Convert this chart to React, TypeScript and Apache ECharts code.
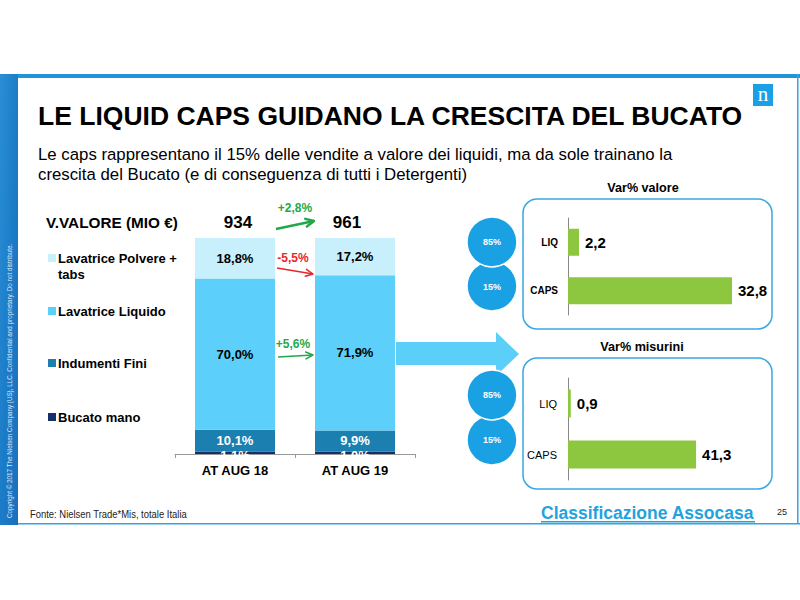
import React, { useEffect, useRef } from 'react';
import * as echarts from 'echarts';

// ---- data ----
const categories = ['AT AUG 18', 'AT AUG 19'];
const seriesNames = ['Bucato mano', 'Indumenti Fini', 'Lavatrice Liquido', 'Lavatrice Polvere + tabs'];
const bucatoMano = [1.1, 1.0];
const indumentiFini = [10.1, 9.9];
const lavatriceLiquido = [70.0, 71.9];
const lavatricePolvere = [18.8, 17.2];
const totals = [934, 961];
const totalChange = '+2,8%';
const polvereChange = '-5,5%';
const liquidoChange = '+5,6%';
const capsCategories = ['LIQ', 'CAPS'];
const varValore = [2.2, 32.8];
const varMisurini = [0.9, 41.3];
const shares = ['85%', '15%'];

const FF = '"Liberation Sans", Arial, sans-serif';
const fmt = (v: number) => v.toFixed(1).replace('.', ',');

const T = (text: string, x: number, y: number, size: number, o: any = {}) => ({
  type: 'text',
  x,
  y,
  z: 20,
  rotation: o.rotation || 0,
  scaleX: o.scaleX || 1,
  style: {
    text,
    fontSize: size,
    fontFamily: o.family || FF,
    fontWeight: o.bold ? 'bold' : 'normal',
    fill: o.color || '#000',
    align: o.align || 'left',
    textAlign: o.align || 'left',
    verticalAlign: 'middle',
    textVerticalAlign: 'middle',
  },
});

const arrow = (x1: number, y1: number, x2: number, y2: number, color: string, w: number, head = 9) => {
  const a = Math.atan2(y2 - y1, x2 - x1);
  const h1 = [x2 - head * Math.cos(a - 0.45), y2 - head * Math.sin(a - 0.45)];
  const h2 = [x2 - head * Math.cos(a + 0.45), y2 - head * Math.sin(a + 0.45)];
  return [
    { type: 'polyline', z: 20, shape: { points: [[x1, y1], [x2, y2]] }, style: { stroke: color, lineWidth: w, fill: null } },
    { type: 'polyline', z: 20, shape: { points: [h1, [x2, y2], h2] }, style: { stroke: color, lineWidth: w, fill: null, lineCap: 'round', lineJoin: 'round' } },
  ];
};

const C_POLV = '#c8effc';
const C_LIQ = '#5cd0fa';
const C_IND = '#1b7fb0';
const C_MANO = '#12306b';
const GREEN = '#8dc63f';
const CIRCLE = '#1aa1e3';
const PANEL = '#3aa8de';

const stackLabel = (color: string, dy = 0) => ({
  show: true,
  position: 'inside',
  offset: [0, dy],
  color,
  fontWeight: 'bold',
  fontSize: 13,
  fontFamily: FF,
  formatter: (p: any) => fmt(p.value) + '%',
});

const valLabel = {
  show: true,
  position: 'right',
  distance: 6,
  color: '#000',
  fontWeight: 'bold',
  fontSize: 15,
  fontFamily: FF,
  formatter: (p: any) => fmt(p.value),
};

const legendItems = [
  { name: seriesNames[3], color: C_POLV, y: 258 },
  { name: seriesNames[2], color: C_LIQ, y: 311 },
  { name: seriesNames[1], color: C_IND, y: 363 },
  { name: seriesNames[0], color: C_MANO, y: 417 },
];

const graphics: any[] = [
  // slide frame
  { type: 'rect', z: 1, shape: { x: 0, y: 74, width: 800, height: 4 }, style: { fill: '#1f93dc' } },
  { type: 'rect', z: 1, shape: { x: 0, y: 523, width: 800, height: 1.5 }, style: { fill: '#3aa0e0' } },
  { type: 'rect', z: 1, shape: { x: 797, y: 74, width: 1.5, height: 450 }, style: { fill: '#3aa0e0' } },
  {
    type: 'rect', z: 1, shape: { x: 0, y: 74, width: 18, height: 451 },
    style: {
      fill: {
        type: 'linear', x: 0, y: 0, x2: 1, y2: 1,
        colorStops: [
          { offset: 0, color: '#2a8fd6' },
          { offset: 0.5, color: '#1c7cc8' },
          { offset: 1, color: '#1a6fbd' },
        ],
      },
    },
  },
  T('Copyright © 2017 The Nielsen Company (US), LLC. Confidential and proprietary. Do not distribute.', 9, 518, 6.3, { color: '#dbe9f7', rotation: Math.PI / 2 }),
  // logo
  { type: 'rect', z: 5, shape: { x: 753, y: 84, width: 20, height: 22 }, style: { fill: '#1aa0e6' } },
  T('n', 763, 94, 21, { color: '#fff', align: 'center', family: '"Liberation Serif", serif' }),
  // titles
  T('LE LIQUID CAPS GUIDANO LA CRESCITA DEL BUCATO', 38, 116, 26.5, { bold: true }),
  T('Le caps rappresentano il 15% delle vendite a valore dei liquidi, ma da sole trainano la', 38, 154, 16.8),
  T('crescita del Bucato (e di conseguenza di tutti i Detergenti)', 38, 174, 16.8),
  // left chart annotations
  T('V.VALORE (MIO €)', 46, 222, 15.3, { bold: true }),
  T(String(totals[0]), 238, 222, 17, { bold: true, align: 'center' }),
  T(String(totals[1]), 347, 222, 17, { bold: true, align: 'center' }),
  T(totalChange, 295, 208, 12, { bold: true, color: '#22a84a', align: 'center' }),
  ...arrow(276, 229, 314, 221, '#22a84a', 2.5),
  T(polvereChange, 293, 258, 12, { bold: true, color: '#e8262a', align: 'center' }),
  ...arrow(277, 268, 313, 274, '#e8262a', 1.5, 8),
  T(liquidoChange, 293, 344, 12, { bold: true, color: '#22a84a', align: 'center' }),
  ...arrow(278, 357, 313, 355, '#22a84a', 1.5, 8),
  // legend
  ...legendItems.map((it) => ({ type: 'rect', z: 20, shape: { x: 48, y: it.y - 4, width: 8, height: 8 }, style: { fill: it.color } })),
  T('Lavatrice Polvere +', 58, 258, 13, { bold: true }),
  T('tabs', 58, 274, 13, { bold: true }),
  T(seriesNames[2], 58, 311, 13, { bold: true }),
  T(seriesNames[1], 58, 363, 13, { bold: true }),
  T(seriesNames[0], 58, 417, 13, { bold: true }),
  // big arrow
  {
    type: 'polygon', z: 3,
    shape: { points: [[396, 342], [496, 342], [496, 332], [519, 354], [496, 376], [496, 365], [396, 365]] },
    style: { fill: '#5ccff8' },
  },
  // panels
  T('Var% valore', 643, 188, 12.6, { bold: true, align: 'center' }),
  { type: 'rect', z: 3, shape: { x: 523, y: 199, width: 249, height: 130, r: 14 }, style: { fill: 'none', stroke: PANEL, lineWidth: 1.5 } },
  T('Var% misurini', 642, 347, 12.6, { bold: true, align: 'center' }),
  { type: 'rect', z: 3, shape: { x: 523, y: 358, width: 249, height: 131, r: 14 }, style: { fill: 'none', stroke: PANEL, lineWidth: 1.5 } },
  // circles
  { type: 'circle', z: 4, shape: { cx: 492, cy: 286, r: 25 }, style: { fill: CIRCLE, stroke: '#fff', lineWidth: 1.5 } },
  { type: 'circle', z: 5, shape: { cx: 492, cy: 242, r: 25 }, style: { fill: CIRCLE, stroke: '#fff', lineWidth: 1.5 } },
  T(shares[0], 492, 242, 9, { bold: true, color: '#fff', align: 'center' }),
  T(shares[1], 492, 287, 9, { bold: true, color: '#fff', align: 'center' }),
  { type: 'circle', z: 4, shape: { cx: 492, cy: 440, r: 25 }, style: { fill: CIRCLE, stroke: '#fff', lineWidth: 1.5 } },
  { type: 'circle', z: 5, shape: { cx: 492, cy: 395, r: 25 }, style: { fill: CIRCLE, stroke: '#fff', lineWidth: 1.5 } },
  T(shares[0], 492, 395, 9, { bold: true, color: '#fff', align: 'center' }),
  T(shares[1], 492, 440, 9, { bold: true, color: '#fff', align: 'center' }),
  // footer
  T('Fonte: Nielsen Trade*Mis, totale Italia', 30, 514, 10.5, { color: '#222', scaleX: 0.9 }),
  T('Classificazione Assocasa', 541, 513, 17.5, { bold: true, color: '#1fa3e0' }),
  { type: 'rect', z: 20, shape: { x: 541, y: 521, width: 214, height: 1.5 }, style: { fill: '#1fa3e0' } },
  T('25', 782, 512, 9, { color: '#222', align: 'center' }),
];

const option: any = {
  animation: false,
  backgroundColor: '#fff',
  textStyle: { fontFamily: FF },
  grid: [
    { left: 175, top: 238, width: 240, height: 216 },
    { left: 568, top: 218, width: 200, height: 97 },
    { left: 568, top: 378, width: 200, height: 102 },
  ],
  xAxis: [
    {
      gridIndex: 0, type: 'category', data: categories,
      axisLine: { lineStyle: { color: '#999', width: 1 } },
      axisTick: { show: true, length: 4, lineStyle: { color: '#999' } },
      axisLabel: { color: '#000', fontWeight: 'bold', fontSize: 13, margin: 10, fontFamily: FF },
    },
    { gridIndex: 1, type: 'value', min: 0, max: 40, show: false },
    { gridIndex: 2, type: 'value', min: 0, max: 64.5, show: false },
  ],
  yAxis: [
    { gridIndex: 0, type: 'value', min: 0, max: 100, show: false },
    {
      gridIndex: 1, type: 'category', data: capsCategories, inverse: true,
      axisLine: { lineStyle: { color: '#888', width: 1 } },
      axisTick: { show: false },
      axisLabel: { color: '#000', fontWeight: 'bold', fontSize: 10, margin: 10, fontFamily: FF },
    },
    {
      gridIndex: 2, type: 'category', data: capsCategories, inverse: true,
      axisLine: { lineStyle: { color: '#888', width: 1 } },
      axisTick: { show: false },
      axisLabel: { color: '#000', fontSize: 11, margin: 11, fontFamily: FF },
    },
  ],
  series: [
    { type: 'bar', name: seriesNames[0], stack: 'v', xAxisIndex: 0, yAxisIndex: 0, barWidth: 80, data: bucatoMano, itemStyle: { color: C_MANO }, label: stackLabel('#fff', 3) },
    { type: 'bar', name: seriesNames[1], stack: 'v', xAxisIndex: 0, yAxisIndex: 0, barWidth: 80, data: indumentiFini, itemStyle: { color: C_IND }, label: stackLabel('#fff', -0.5) },
    { type: 'bar', name: seriesNames[2], stack: 'v', xAxisIndex: 0, yAxisIndex: 0, barWidth: 80, data: lavatriceLiquido, itemStyle: { color: C_LIQ }, label: stackLabel('#000') },
    { type: 'bar', name: seriesNames[3], stack: 'v', xAxisIndex: 0, yAxisIndex: 0, barWidth: 80, data: lavatricePolvere, itemStyle: { color: C_POLV }, label: stackLabel('#000') },
    { type: 'bar', name: 'Var% valore', xAxisIndex: 1, yAxisIndex: 1, barWidth: 27, data: varValore, itemStyle: { color: GREEN }, label: valLabel },
    { type: 'bar', name: 'Var% misurini', xAxisIndex: 2, yAxisIndex: 2, barWidth: 28, data: varMisurini, itemStyle: { color: GREEN }, label: valLabel },
  ],
  graphic: { elements: graphics },
};

export default function App() {
  const ref = useRef<HTMLDivElement>(null);
  useEffect(() => {
    document.body.style.margin = '0';
    const chart = echarts.init(ref.current as HTMLDivElement, null, { renderer: 'svg' });
    chart.setOption(option);
    return () => chart.dispose();
  }, []);
  return <div ref={ref} style={{ position: 'absolute', left: 0, top: 0, width: 800, height: 600, background: '#fff' }} />;
}
